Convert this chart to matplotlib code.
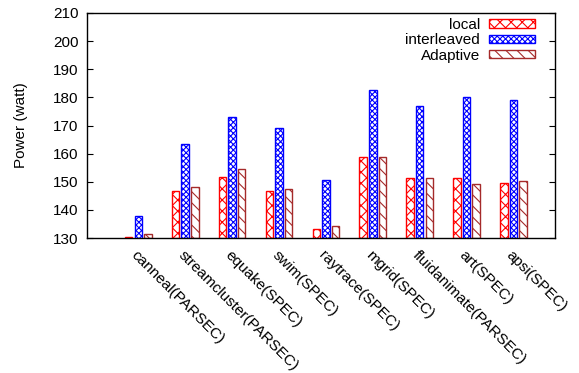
import numpy as np
import matplotlib.pyplot as plt

plt.rcParams['font.family'] = ['Liberation Sans', 'DejaVu Sans']
plt.rcParams['hatch.linewidth'] = 0.8

benchmarks = ['canneal(PARSEC)', 'streamcluster(PARSEC)', 'equake(SPEC)', 'swim(SPEC)',
              'raytrace(SPEC)', 'mgrid(SPEC)', 'fluidanimate(PARSEC)', 'art(SPEC)', 'apsi(SPEC)']
local       = [130.2, 146.6, 151.7, 146.8, 133.1, 158.7, 151.3, 151.2, 149.4]
interleaved = [137.8, 163.4, 173.0, 169.1, 150.5, 182.6, 177.0, 180.2, 179.1]
adaptive    = [131.3, 148.1, 154.4, 147.3, 134.2, 158.7, 151.2, 149.2, 150.3]

fig = plt.figure(figsize=(5.79, 3.73), dpi=100)
ax = fig.add_axes([87/579, 1 - 238/373, (555 - 87)/579, (238 - 13)/373])

x = np.arange(len(benchmarks))
w = 0.16
off = 0.205
series = [('local', local, 'red', 'xxx'),
          ('interleaved', interleaved, 'blue', 'xxxxxx'),
          ('Adaptive', adaptive, 'brown', '\\\\\\')]
for i, (name, vals, col, hatch) in enumerate(series):
    heights = np.array(vals) - 130
    ax.bar(x + (i - 1) * off, heights, w, bottom=130, facecolor='white',
           edgecolor=col, hatch=hatch, linewidth=1.0, label=name)

fs = 11
ax.set_ylim(130, 210)
ax.set_xlim(-1.094, 8.885)
ax.set_yticks(np.arange(130, 211, 10))
ax.tick_params(axis='y', direction='in', right=True, length=4, labelsize=fs, pad=6)
ax.set_xticks(x)
ax.set_xticklabels(benchmarks, rotation=-45, ha='left', va='top',
                   rotation_mode='anchor', fontsize=fs)
ax.tick_params(axis='x', length=0, pad=7)
for s in ax.spines.values():
    s.set_linewidth(1.0)
ax.set_ylabel('Power (watt)', fontsize=fs)
ax.yaxis.set_label_coords(-0.125, 0.5)

ax.legend(loc='upper right', frameon=False, markerfirst=False, fontsize=fs,
          handlelength=3.0, handleheight=0.5, labelspacing=0.08,
          handletextpad=0.6, borderaxespad=0.3, bbox_to_anchor=(0.98, 1.025))

fig.savefig('out.png', dpi=100)
